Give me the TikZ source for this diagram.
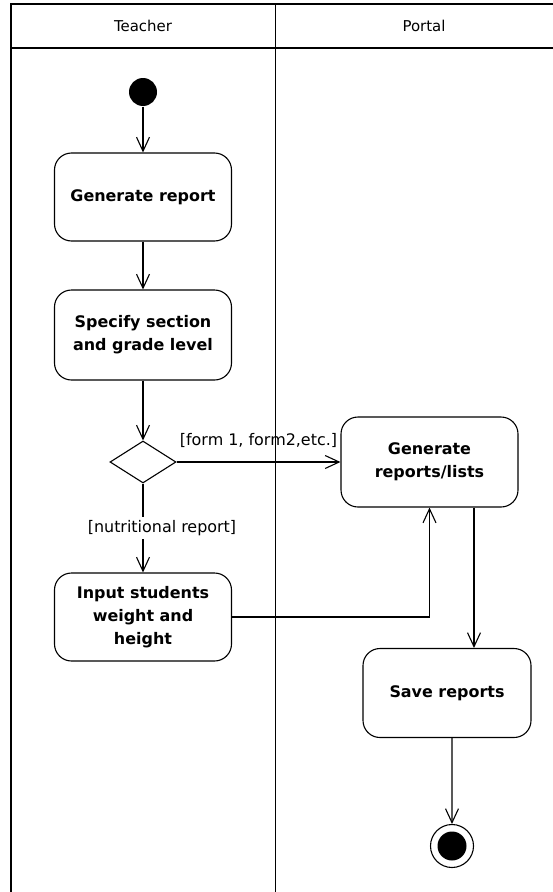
\documentclass[tikz,border=0pt]{standalone}
\usepackage{fontspec}
\setmainfont{DejaVu Sans}
\usetikzlibrary{shapes.geometric,arrows.meta}

\begin{document}
\begin{tikzpicture}[x=1bp, y=-1bp,
            line width=1.1bp,
            every node/.style = {align=center, inner sep=0pt},
            action/.style = {shape=rectangle, rounded corners=17bp, draw,
                             minimum width=177bp, minimum height=88bp,
                             font=\fontsize{16}{23}\selectfont\bfseries},
            guard/.style = {font=\fontsize{16}{18}\selectfont},
            lanetitle/.style = {font=\fontsize{15}{17}\selectfont},
            flow/.style = {-{Straight Barb[length=14bp, width=13bp]}}]
    \useasboundingbox (0,0) rectangle (553,892);
    % swimlanes
    \draw (11,900) |- (560,4);
    \draw (11,48) -- (560,48);
    \draw (275.5,4) -- (275.5,900);
    \node[lanetitle] (teacher) at (143,26) {Teacher};
    \node[lanetitle] (portal) at (424,26) {Portal};
    % activities
    \node[circle, fill, minimum size=28bp] (start) at (143,92) {};
    \node[action] (gen) at (143,197) {Generate report};
    \node[action, minimum height=90bp] (spec) at (143,335) {Specify section\\and grade level};
    \node[diamond, draw, minimum width=66bp, minimum height=42bp] (dec) at (143,462) {};
    \node[action] (inp) at (143,617) {Input students\\weight and\\height};
    \node[action, minimum height=90bp] (genl) at (429.5,462) {Generate\\reports/lists};
    \node[action, minimum width=168bp, minimum height=89bp] (save) at (447,693) {Save reports};
    \node[circle, draw, minimum size=43bp] (stop) at (452,846) {};
    \node[circle, fill, minimum size=29bp] (stopdot) at (stop) {};
    % flows
    \draw[flow] (start) -- (gen);
    \draw[flow] (gen) -- (spec);
    \draw[flow] (spec) -- (dec);
    \draw[flow] (dec.east) -- node[guard, above=14bp] {[form 1, form2,etc.]} (genl.west);
    \draw[flow] (dec.south) -- node[guard, fill=white, xshift=19bp, inner ysep=3bp] {[nutritional report]} (inp.north);
    \draw[flow] (inp.east) -| (genl.south);
    \draw[flow] ([xshift=44.5bp]genl.south) -- ([xshift=44.5bp]genl.south |- save.north);
    \draw[flow] ([xshift=5bp]save.south) -- (stop);
\end{tikzpicture}
\end{document}
